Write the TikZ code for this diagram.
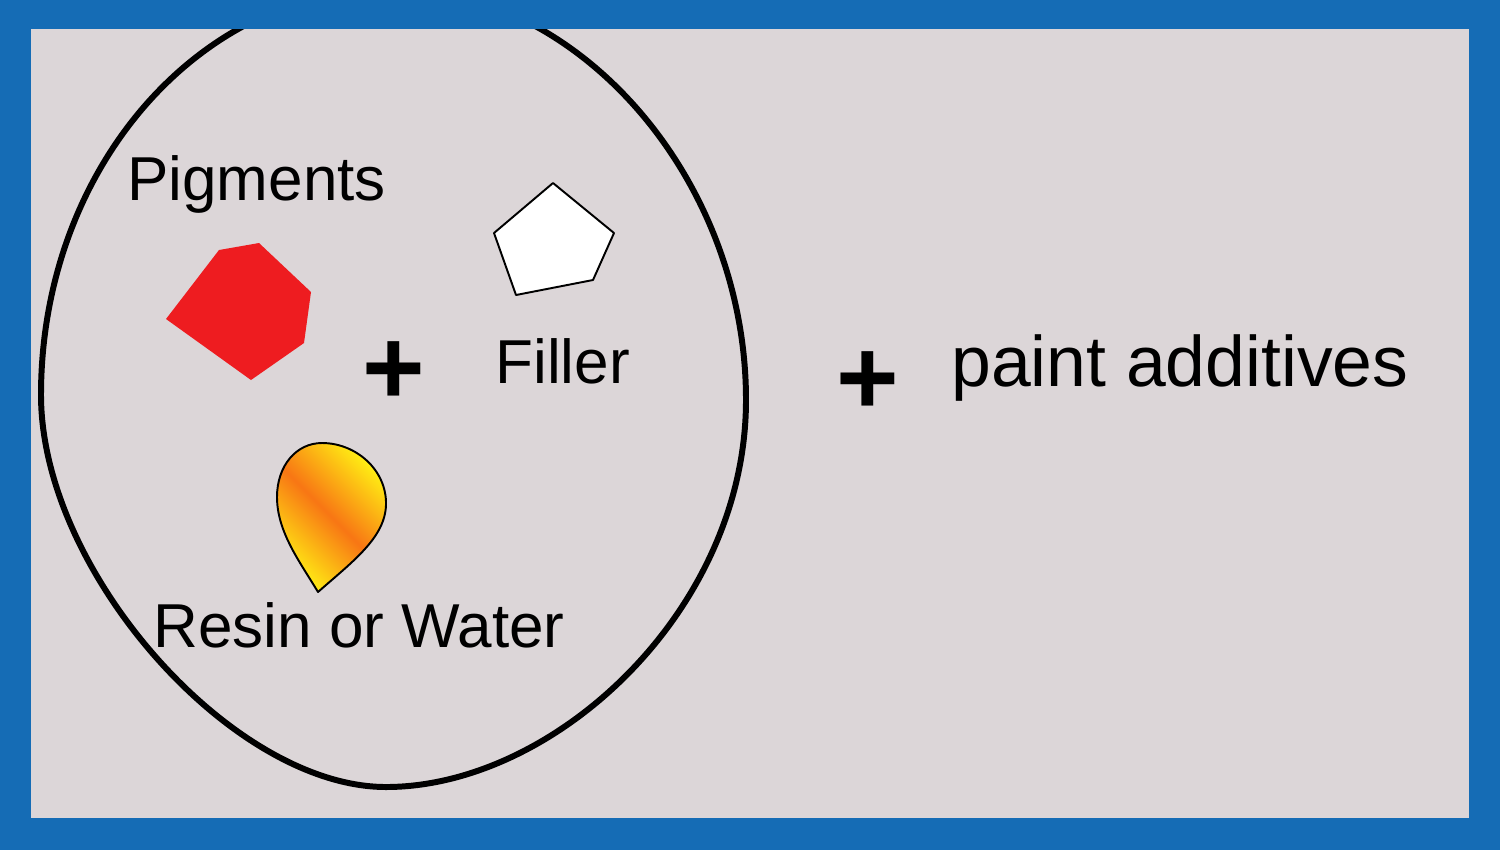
\documentclass[tikz,border=0pt]{standalone}
\usepackage{fontspec}
\setmainfont{Liberation Sans}
\usetikzlibrary{positioning}
\definecolor{frameblue}{RGB}{21,108,181}
\definecolor{paper}{RGB}{220,214,216}
\definecolor{pigred}{RGB}{238,28,32}
\definecolor{resinorange}{RGB}{248,118,20}
\definecolor{resinyellow}{RGB}{255,238,20}

\begin{document}
\begin{tikzpicture}[x=0.02cm, y=-0.02cm,
  itemtext/.style={inner sep=0pt, anchor=base west, font=\fontsize{35.3}{41}\selectfont},
  bigtext/.style={inner sep=0pt, anchor=base west, font=\fontsize{40.7}{47}\selectfont},
  plussign/.style={inner sep=0pt, anchor=base, font=\bfseries\fontsize{61}{70}\selectfont},
  egg/.style={draw=black, line width=3.4pt},
  grain/.style={draw=black, line width=1.1pt, line join=round}
]

% Frame and paper
\fill[frameblue] (0,0) rectangle (1500,850);
\fill[paper] (31,29) rectangle (1469,818);

% Mixture outline
\begin{scope}
\clip (31,29) rectangle (1469,818);
\draw[egg] (392,-12) .. controls (198,-12) and (41,170) .. (41,395)
  .. controls (41,571) and (232,787) .. (386,787)
  .. controls (555,787) and (746,610) .. (746,400)
  .. controls (746,180) and (580,-12) .. (392,-12) -- cycle;
\end{scope}

% Pigments
\node[itemtext] (pigments) at (127,200) {Pigments};
\fill[pigred] (166,319) -- (219,250) -- (259,243) -- (311,292) -- (304,343) -- (251,380) -- cycle;

% Filler
\filldraw[grain, fill=white] (553,183) -- (614,233) -- (593,280) -- (516,295) -- (494,233) -- cycle;
\node[itemtext] (filler) at (495,383) {Filler};

% Resin or Water
\shadedraw[grain, left color=resinyellow, right color=resinyellow, middle color=resinorange, shading angle=135]
  (318,592) .. controls (300,562) and (277,532) .. (277,497)
  .. controls (277,466) and (296,443) .. (322,443)
  .. controls (356,443) and (387,470) .. (386,505)
  .. controls (385,538) and (352,562) .. (318,592) -- cycle;
\node[itemtext] (resin) at (153,647) {Resin or Water};

% Plus signs
\node[plussign] (plusin) at (394,404) {+};
\node[plussign] (plusout) at (868,414) {+};

% Additives
\node[bigtext] (additives) at (951,386) {paint additives};

\end{tikzpicture}
\end{document}
